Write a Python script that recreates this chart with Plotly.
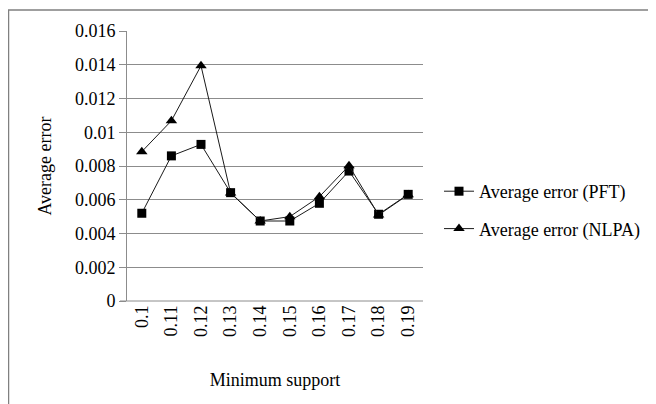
import plotly.graph_objects as go

support = ["0.1", "0.11", "0.12", "0.13", "0.14", "0.15", "0.16", "0.17", "0.18", "0.19"]
pft = [0.0052, 0.0086, 0.00928, 0.00642, 0.00474, 0.00474, 0.00579, 0.0077, 0.00514, 0.00632]
nlpa = [0.00885, 0.01068, 0.01394, 0.0064, 0.00474, 0.005, 0.00618, 0.00802, 0.0051, 0.0063]
y_tickvals = [0, 0.002, 0.004, 0.006, 0.008, 0.01, 0.012, 0.014, 0.016]
y_ticktext = ["0", "0.002", "0.004", "0.006", "0.008", "0.01", "0.012", "0.014", "0.016"]

FONT = "Times New Roman, Liberation Serif, serif"
GRID = "#8c8c8c"

fig = go.Figure()
fig.add_trace(go.Scatter(
    x=support, y=pft, mode="lines+markers", name="Average error (PFT)",
    line=dict(color="#1a1a1a", width=1),
    marker=dict(symbol="square", size=9, color="black"),
    legendgroup="a",
))
fig.add_trace(go.Scatter(
    x=support, y=nlpa, mode="lines+markers", name="Average error (NLPA)",
    line=dict(color="#1a1a1a", width=1),
    marker=dict(symbol="triangle-up", size=10, color="black"),
    legendgroup="b",
))

# page body has an 8px margin; figure coordinates are page coords minus 8
OFF = 8
L, R, T, B = 127 - OFF, 423 - OFF, 31 - OFF, 301 - OFF
W, H = 656, 404
pw, ph = R - L, B - T

def px(x):
    return (x - OFF - L) / pw

def py(y):
    return (B - (y - OFF)) / ph

fig.update_layout(
    width=W, height=H, autosize=False,
    margin=dict(l=L, r=W - R, t=T, b=H - B, pad=0),
    paper_bgcolor="white", plot_bgcolor="white",
    font=dict(family=FONT, size=18, color="black"),
    showlegend=True,
    legend=dict(
        x=px(439), y=py(173), xanchor="left", yanchor="top",
        traceorder="grouped", tracegroupgap=11,
        font=dict(family=FONT, size=18, color="black"),
        bgcolor="rgba(0,0,0,0)", borderwidth=0,
    ),
    xaxis=dict(
        type="category", range=[-0.5, 9.5],
        showgrid=False, showline=False, zeroline=False,
        ticks="", tickangle=-90,
        tickfont=dict(family=FONT, size=18, color="black"),
        title=dict(text="Minimum support", font=dict(family=FONT, size=18, color="black"), standoff=37),
    ),
    yaxis=dict(
        range=[0, 0.016], tickvals=y_tickvals, ticktext=y_ticktext,
        showgrid=True, gridcolor=GRID, gridwidth=1,
        showline=True, linecolor=GRID, linewidth=1,
        zeroline=False,
        ticks="outside", ticklen=7, tickcolor=GRID,
        tickfont=dict(family=FONT, size=18, color="black"),
        title=dict(text="Average error", font=dict(family=FONT, size=18, color="black"), standoff=18),
    ),
    shapes=[
        dict(type="rect", xref="paper", yref="paper",
             x0=px(8.5), x1=px(700), y0=py(10), y1=py(450),
             line=dict(color="#808080", width=1.5), layer="below"),
        dict(type="line", xref="paper", yref="paper",
             x0=px(120), x1=1, y0=0, y1=0,
             line=dict(color=GRID, width=1), layer="below"),
    ],
)

fig.write_html("out.html")
